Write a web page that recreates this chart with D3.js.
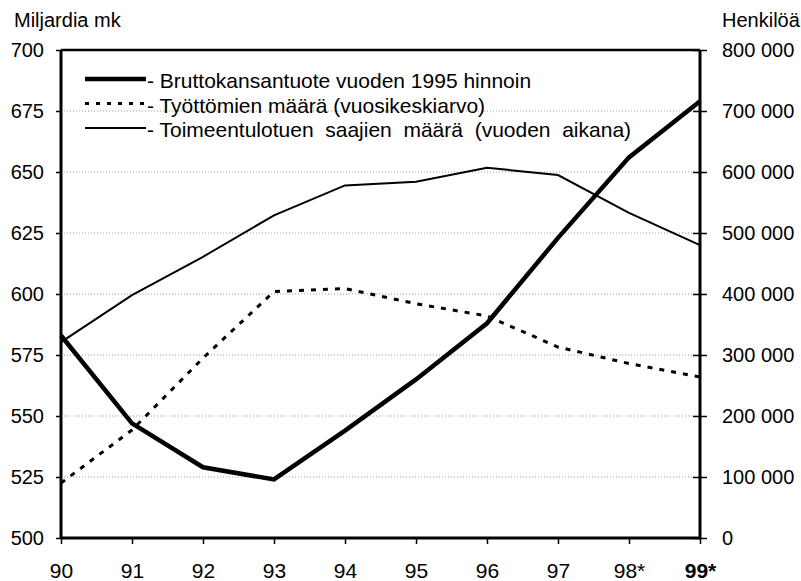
<!DOCTYPE html>
<html><head><meta charset="utf-8">
<script src="https://cdn.jsdelivr.net/npm/d3@7"></script>
<style>body{margin:0;background:#fff}svg{display:block}text{font-family:"Liberation Sans",Arial,sans-serif;fill:#000}</style>
</head><body><svg id="c" width="801" height="581"></svg>
<script>
const years = ["90","91","92","93","94","95","96","97","98*","99*"];
const gdp = [583, 547, 529, 524, 544, 565, 588, 623, 656, 679];
const unemployed = [90000, 177000, 295000, 404000, 409000, 384000, 364000, 313000, 286000, 264000];
const assistance = [321000, 398000, 461000, 529000, 578000, 584000, 607000, 595000, 533000, 480000];
const leftTicks = [500, 525, 550, 575, 600, 625, 650, 675, 700];
const rightTicks = [0, 100000, 200000, 300000, 400000, 500000, 600000, 700000, 800000];
const legendLabels = ["- Bruttokansantuote vuoden 1995 hinnoin", "- Työttömien määrä (vuosikeskiarvo)", "- Toimeentulotuen  saajien  määrä  (vuoden  aikana)"];

const svg = d3.select("#c");
const L = 61, R = 700, T = 50, B = 538;
const x = d3.scalePoint().domain(years).range([L, R]);
const yL = d3.scaleLinear().domain([500, 700]).range([B, T]);
const yR = d3.scaleLinear().domain([0, 800000]).range([B, T]);

// gridlines
svg.append("g").selectAll("line").data(leftTicks.slice(1, -1)).join("line")
  .attr("x1", L).attr("x2", R).attr("y1", d => yL(d)).attr("y2", d => yL(d))
  .attr("stroke", "#999").attr("stroke-width", 1).attr("stroke-dasharray", "1,2");

// axes
const fmt = d => d === 0 ? "0" : d3.format(",")(d).replace(/,/g, " ");
const gl = svg.append("g").attr("transform", `translate(${L},0)`)
  .call(d3.axisLeft(yL).tickValues(leftTicks).tickSize(5).tickPadding(12));
const gr = svg.append("g").attr("transform", `translate(${R},0)`)
  .call(d3.axisRight(yR).tickValues(rightTicks).tickSize(7).tickPadding(15).tickFormat(fmt));
const gb = svg.append("g").attr("transform", `translate(0,${B})`)
  .call(d3.axisBottom(x).tickSize(6).tickPadding(19));
[gl, gr, gb].forEach(g => {
  g.select(".domain").attr("stroke", "#000").attr("stroke-width", 3);
  g.selectAll(".tick line").attr("stroke", "#000").attr("stroke-width", 1.5);
  g.selectAll("text").attr("font-size", 20).attr("fill", "#000");
});
gb.selectAll("text").attr("font-size", 21);
gr.selectAll(".tick line").attr("x1", -7);
gl.select(".domain").attr("d", `M0,${T}V${B}`);
gr.select(".domain").attr("d", `M0,${T}V${B}`);
gb.select(".domain").attr("d", `M${L},0H${R}`);
gb.selectAll(".tick text").filter(d => d === "99*").attr("font-weight", "bold");
// top frame line
svg.append("line").attr("x1", L).attr("x2", R).attr("y1", T).attr("y2", T)
  .attr("stroke", "#000").attr("stroke-width", 2.5);

// axis titles
svg.append("text").attr("x", 14).attr("y", 27).attr("font-size", 20).text("Miljardia mk");
svg.append("text").attr("x", 722).attr("y", 27).attr("font-size", 20).text("Henkilöä");

// lines
const lineL = d3.line().x((d, i) => x(years[i])).y(d => yL(d));
const lineR = d3.line().x((d, i) => x(years[i])).y(d => yR(d));
svg.append("path").attr("d", lineR(assistance)).attr("fill", "none").attr("stroke", "#000").attr("stroke-width", 2);
svg.append("path").attr("d", lineR(unemployed)).attr("fill", "none").attr("stroke", "#000").attr("stroke-width", 3).attr("stroke-dasharray", "5,7");
svg.append("path").attr("d", lineL(gdp)).attr("fill", "none").attr("stroke", "#000").attr("stroke-width", 4.5);

// legend
const styles = [{w: 4.5, da: null}, {w: 3, da: "4,7"}, {w: 2, da: null}];
const lg = svg.append("g");
legendLabels.forEach((t, i) => {
  const base = 88 + i * 24.5;
  lg.append("line").attr("x1", 85).attr("x2", 146).attr("y1", base - 9).attr("y2", base - 9)
    .attr("stroke", "#000").attr("stroke-width", styles[i].w).attr("stroke-dasharray", styles[i].da);
  lg.append("text").attr("x", 147).attr("y", base).attr("font-size", 21)
    .style("white-space", "pre").text(t);
});
</script></body></html>
